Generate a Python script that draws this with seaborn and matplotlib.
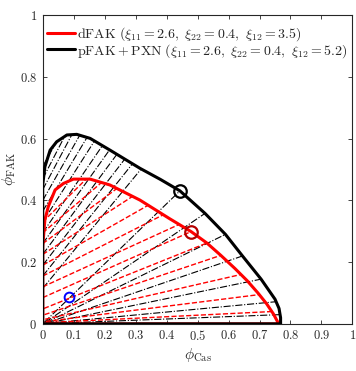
import numpy as np
import pandas as pd
import seaborn as sns
import matplotlib
matplotlib.use("Agg")
import matplotlib.pyplot as plt

# binodal of pFAK + PXN (black), traced as one closed path
black_x = [0.768, 0.768, 0.763, 0.750, 0.705, 0.645, 0.590, 0.524, 0.443, 0.380, 0.314, 0.217,
           0.153, 0.110, 0.078, 0.045, 0.024, 0.007, 0.0, 0.0, 0.768]
black_y = [0.0, 0.020, 0.050, 0.080, 0.145, 0.220, 0.290, 0.358, 0.431, 0.468, 0.504, 0.563,
           0.601, 0.614, 0.612, 0.590, 0.563, 0.509, 0.450, 0.0, 0.0]

# binodal of dFAK (red)
red_x = [0.762, 0.745, 0.723, 0.695, 0.660, 0.620, 0.575, 0.530, 0.479, 0.411, 0.314, 0.217,
         0.153, 0.099, 0.067, 0.040, 0.018, 0.007, 0.0, 0.0, 0.762]
red_y = [0.0, 0.032, 0.065, 0.100, 0.140, 0.180, 0.222, 0.262, 0.299, 0.340, 0.401, 0.450,
         0.469, 0.469, 0.455, 0.434, 0.380, 0.337, 0.250, 0.0, 0.0]

# black tie lines: dilute end -> dense end
black_tie_x0 = [0.0] * 12 + [0.005, 0.008, 0.010, 0.012, 0.014, 0.016, 0.018]
black_tie_y0 = [0.510, 0.470, 0.435, 0.400, 0.365, 0.330, 0.295, 0.260, 0.225, 0.190, 0.155, 0.115,
                0.005, 0.005, 0.004, 0.003, 0.002, 0.002, 0.001]
black_tie_x1 = [0.044, 0.071, 0.094, 0.120, 0.143, 0.168, 0.193, 0.216, 0.240, 0.265, 0.290, 0.318,
                0.443, 0.524, 0.590, 0.645, 0.705, 0.755, 0.766]
black_tie_y1 = [0.589, 0.608, 0.613, 0.612, 0.604, 0.594, 0.578, 0.564, 0.550, 0.534, 0.519, 0.502,
                0.431, 0.358, 0.290, 0.220, 0.145, 0.072, 0.030]

# red tie lines
red_tie_x0 = [0.0] * 8 + [0.004, 0.006, 0.008, 0.010, 0.012]
red_tie_y0 = [0.330, 0.295, 0.260, 0.225, 0.190, 0.155, 0.120, 0.085,
              0.050, 0.030, 0.015, 0.008, 0.004]
red_tie_x1 = [0.140, 0.190, 0.240, 0.290, 0.340, 0.390, 0.440, 0.479,
              0.530, 0.575, 0.640, 0.700, 0.740]
red_tie_y1 = [0.469, 0.458, 0.439, 0.413, 0.384, 0.354, 0.322, 0.299,
              0.262, 0.222, 0.160, 0.095, 0.040]

# marked points
crit_black = (0.443, 0.431)
crit_red = (0.479, 0.299)
blue_pt = (0.086, 0.088)

labels = [r"$\mathrm{dFAK}\ (\xi_{11} = 2.6,\ \xi_{22} = 0.4,\ \xi_{12} = 3.5)$",
          r"$\mathrm{pFAK} + \mathrm{PXN}\ (\xi_{11} = 2.6,\ \xi_{22} = 0.4,\ \xi_{12} = 5.2)$"]
xticks = [0, 0.1, 0.2, 0.3, 0.4, 0.5, 0.6, 0.7, 0.8, 0.9, 1]
xticklabels = ["0", "0.1", "0.2", "0.3", "0.4", "0.5", "0.6", "0.7", "0.8", "0.9", "1"]
yticks = [0, 0.2, 0.4, 0.6, 0.8, 1]
yticklabels = ["0", "0.2", "0.4", "0.6", "0.8", "1"]


def tie_frame(x0, y0, x1, y1):
    rows = []
    for i in range(len(x0)):
        rows.append({"line": i, "x": x0[i], "y": y0[i]})
        rows.append({"line": i, "x": x1[i], "y": y1[i]})
    return pd.DataFrame(rows)


sns.set_theme(style="ticks")
plt.rcParams["mathtext.fontset"] = "cm"
plt.rcParams["font.family"] = ["DejaVu Serif"]

fig = plt.figure(figsize=(3.56, 3.71), dpi=100)
ax = fig.add_axes([0.12, 0.127, 0.87, 0.832])

sns.lineplot(data=tie_frame(black_tie_x0, black_tie_y0, black_tie_x1, black_tie_y1),
             x="x", y="y", units="line", estimator=None, sort=False,
             color="black", linestyle="-.", lw=0.8, ax=ax)
sns.lineplot(data=tie_frame(red_tie_x0, red_tie_y0, red_tie_x1, red_tie_y1),
             x="x", y="y", units="line", estimator=None, sort=False,
             color="red", linestyle="--", lw=1.0, ax=ax)

sns.lineplot(x=red_x, y=red_y, sort=False, estimator=None, color="red", lw=2.2,
             label=labels[0], ax=ax, zorder=4)
sns.lineplot(x=black_x, y=black_y, sort=False, estimator=None, color="black", lw=2.2,
             label=labels[1], ax=ax, zorder=5)

ax.plot(*crit_black, "o", ms=9, mfc="none", mec="black", mew=1.6, zorder=6)
ax.plot(*crit_red, "o", ms=9, mfc="none", mec="#b40000", mew=1.6, zorder=6)
ax.plot(*blue_pt, "o", ms=7, mfc="none", mec="blue", mew=1.4, zorder=6)

ax.set_xlim(0, 1)
ax.set_ylim(0, 1)
ax.set_xticks(xticks)
ax.set_xticklabels(["$" + t + "$" for t in xticklabels], fontsize=9)
ax.set_yticks(yticks)
ax.set_yticklabels(["$" + t + "$" for t in yticklabels], fontsize=9)
ax.tick_params(direction="in", length=3, width=0.6, top=True, right=True, pad=4, colors="#262626")
for s in ax.spines.values():
    s.set_linewidth(0.8)
    s.set_color("#262626")

ax.set_xlabel(r"$\phi_{\rm Cas}$", fontsize=11, labelpad=2)
ax.set_ylabel(r"$\phi_{\rm FAK}$", fontsize=11, labelpad=1)

ax.legend(loc="upper left", bbox_to_anchor=(0.0, 0.98), frameon=False, fontsize=10,
          handlelength=2.0, handletextpad=0.15, labelspacing=-0.1, borderaxespad=0.1,
          borderpad=0.2)

fig.savefig("out.png", dpi=100)
